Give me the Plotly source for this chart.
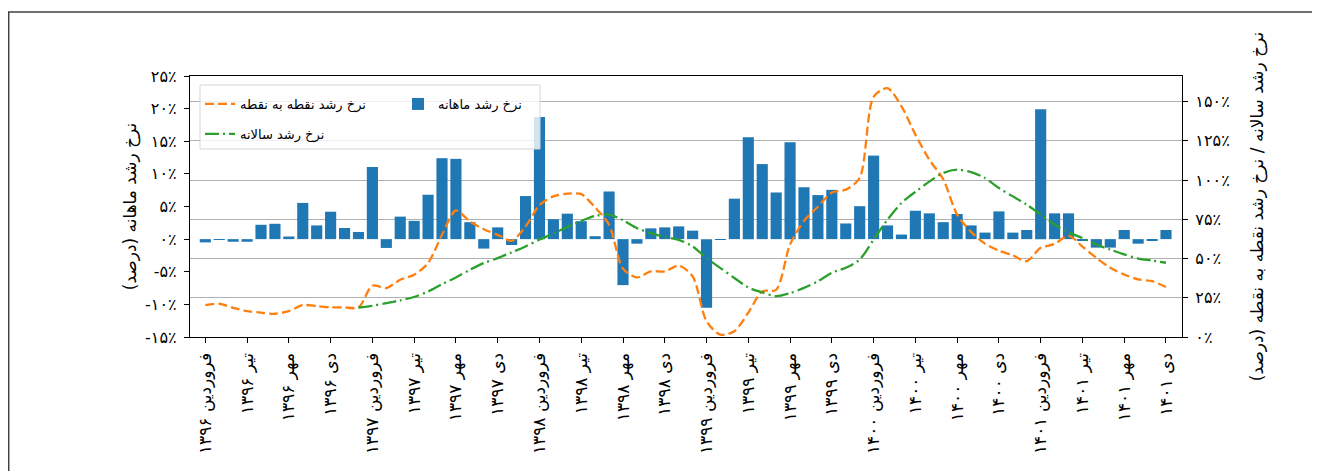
import plotly.graph_objects as go

FA_DIGITS = str.maketrans("0123456789", "۰۱۲۳۴۵۶۷۸۹")


def fa(s):
    return str(s).translate(FA_DIGITS)


month_names = ["فروردین", "اردیبهشت", "خرداد", "تیر", "مرداد", "شهریور",
               "مهر", "آبان", "آذر", "دی", "بهمن", "اسفند"]
years = [1396, 1397, 1398, 1399, 1400, 1401]
n_months = 70  # فروردین ۱۳۹۶ .. دی ۱۴۰۱
categories = [f"{month_names[i % 12]} {fa(years[i // 12])}" for i in range(n_months)]
tick_categories = categories[::3]

monthly_growth = [
    -0.5, -0.1, -0.4, -0.4, 2.2, 2.35, 0.4, 5.55, 2.1, 4.2, 1.7, 1.1,
    11.05, -1.35, 3.45, 2.8, 6.8, 12.4, 12.3, 2.6, -1.45, 1.8, -0.9, 6.6,
    18.7, 3.05, 3.9, 2.75, 0.45, 7.3, -7.05, -0.7, 1.65, 1.8, 1.95, 1.3,
    -10.5, -0.1, 6.2, 15.6, 11.5, 7.15, 14.85, 7.95, 6.75, 7.55, 2.4, 5.05,
    12.8, 2.1, 0.7, 4.35, 3.95, 2.6, 3.85, 2.1, 1.0, 4.25, 1.0, 1.4,
    19.9, 3.95, 3.95, -0.25, -1.3, -1.3, 1.4, -0.7, -0.25, 1.4,
]

point_to_point = [
    20.3, 21.2, 18.6, 16.5, 15.5, 14.8, 16.5, 20.3, 19.7, 18.9, 18.9, 18.8,
    32.7, 31.2, 36.5, 39.7, 47.1, 65.1, 80.6, 73.6, 68.7, 65.1, 61.3, 70.4,
    84.0, 89.6, 91.3, 91.0, 82.5, 71.5, 43.5, 38.0, 41.8, 41.8, 45.5, 38.7,
    10.0, 1.5, 3.7, 15.5, 29.0, 30.1, 59.0, 74.0, 83.0, 92.0, 93.9, 101.3,
    153.0, 158.5, 147.0, 129.0, 113.0, 100.5, 78.0, 67.0, 59.5, 55.0, 52.0, 48.3,
    56.8, 59.3, 64.6, 57.6, 50.4, 44.1, 39.8, 36.7, 35.6, 31.8,
]

annual_growth = [
    None, None, None, None, None, None, None, None, None, None, None, 18.8,
    19.9, 21.6, 23.3, 25.5, 29.0, 33.7, 37.9, 42.8, 47.1, 50.3, 53.9, 57.7,
    62.1, 65.9, 70.1, 74.0, 77.2, 78.0, 74.4, 69.4, 66.2, 63.7, 61.9, 57.7,
    50.3, 43.9, 37.6, 31.6, 28.4, 26.0, 27.9, 31.3, 35.5, 41.0, 44.1, 49.4,
    62.1, 74.8, 85.4, 92.5, 99.0, 104.5, 106.6, 105.1, 101.3, 94.9, 89.6, 84.3,
    78.0, 71.6, 66.7, 63.1, 58.9, 55.7, 52.6, 50.0, 48.7, 47.3,
]

left_ticks = [-15, -10, -5, 0, 5, 10, 15, 20, 25]
right_ticks = [0, 25, 50, 75, 100, 125, 150]

label_bar = "نرخ رشد ماهانه"
label_p2p = "نرخ رشد نقطه به نقطه"
label_annual = "نرخ رشد سالانه"
title_left = "نرخ رشد ماهانه (درصد)"
title_right = "نرخ رشد سالانه / نرخ رشد نقطه به نقطه (درصد)"

FONT = "DejaVu Sans"

fig = go.Figure()
fig.add_trace(go.Bar(
    x=categories, y=monthly_growth, name=label_bar,
    marker=dict(color="#1f77b4", line=dict(width=0)),
    legend="legend2", yaxis="y",
))
fig.add_trace(go.Scatter(
    x=categories, y=point_to_point, name=label_p2p, mode="lines",
    line=dict(color="#ff7f0e", width=2.3, dash="9px,4px", shape="spline", smoothing=0.8),
    yaxis="y2", legend="legend", legendgroup="a",
))
fig.add_trace(go.Scatter(
    x=categories, y=annual_growth, name=label_annual, mode="lines",
    line=dict(color="#2ca02c", width=2.3, dash="14px,4px,2px,4px", shape="spline", smoothing=0.8),
    yaxis="y2", legend="legend", legendgroup="b",
))

# page body has an 8px margin: screen coords = figure coords + 8
OFF = 8
W, H = 1312, 463
L, R, T, B = 182, 138, 68, 134
pw, ph = W - L - R, H - T - B


def px_x(p):
    return (p - OFF - L) / pw


def px_y(p):
    return (H - B - (p - OFF)) / ph


fig.update_layout(
    width=W, height=H,
    margin=dict(l=L, r=R, t=T, b=B, pad=0, autoexpand=False),
    paper_bgcolor="white", plot_bgcolor="white",
    font=dict(family=FONT, size=13, color="black"),
    bargap=0.2,
    showlegend=True,
    xaxis=dict(
        type="category", range=[-1.1, 70.15], automargin=False,
        tickmode="array", tickvals=tick_categories, ticktext=tick_categories,
        tickangle=-90, ticks="outside", ticklen=5, tickcolor="black",
        ticklabelstandoff=3,
        showline=True, linecolor="black", linewidth=1.3, mirror=True,
        showgrid=False, tickfont=dict(size=17),
    ),
    yaxis=dict(
        range=[-15, 25], tickmode="array", tickvals=left_ticks, automargin=False,
        ticktext=[fa(v) + "٪" for v in left_ticks],
        ticks="outside", ticklen=5, tickcolor="black", ticklabelstandoff=4,
        showline=True, linecolor="black", linewidth=1.3,
        showgrid=False, zeroline=False, tickfont=dict(size=16),
        title=dict(text=title_left, font=dict(size=17), standoff=4),
    ),
    yaxis2=dict(
        range=[0, 166.3], overlaying="y", side="right", anchor="x", automargin=False,
        tickmode="array", tickvals=right_ticks,
        ticktext=[fa(v) + "٪" for v in right_ticks],
        ticks="outside", ticklen=5, tickcolor="black", ticklabelstandoff=4,
        showline=True, linecolor="black", linewidth=1.3,
        showgrid=True, gridcolor="#b0b0b0", gridwidth=1.3, zeroline=False,
        tickfont=dict(size=16),
        title=dict(text=title_right, font=dict(size=17), standoff=22),
    ),
    legend=dict(
        x=px_x(200), y=px_y(89), xanchor="left", yanchor="top",
        bgcolor="rgba(0,0,0,0)", borderwidth=0, font=dict(size=13),
        traceorder="grouped", tracegroupgap=10, itemwidth=30,
    ),
    legend2=dict(
        x=px_x(398), y=px_y(89), xanchor="left", yanchor="top",
        bgcolor="rgba(0,0,0,0)", borderwidth=0, font=dict(size=13),
        itemwidth=30,
    ),
    shapes=[
        dict(type="rect", xref="paper", yref="paper",
             x0=px_x(200), x1=px_x(540), y0=px_y(149), y1=px_y(85),
             fillcolor="rgba(255,255,255,0.8)", line=dict(color="#d5d5d5", width=1),
             layer="above"),
        dict(type="rect", xref="paper", yref="paper",
             x0=px_x(8.7), x1=px_x(1340), y0=px_y(500), y1=px_y(12),
             fillcolor="rgba(0,0,0,0)", line=dict(color="#404040", width=1.5),
             layer="above"),
    ],
)

fig.write_html("out.html")
